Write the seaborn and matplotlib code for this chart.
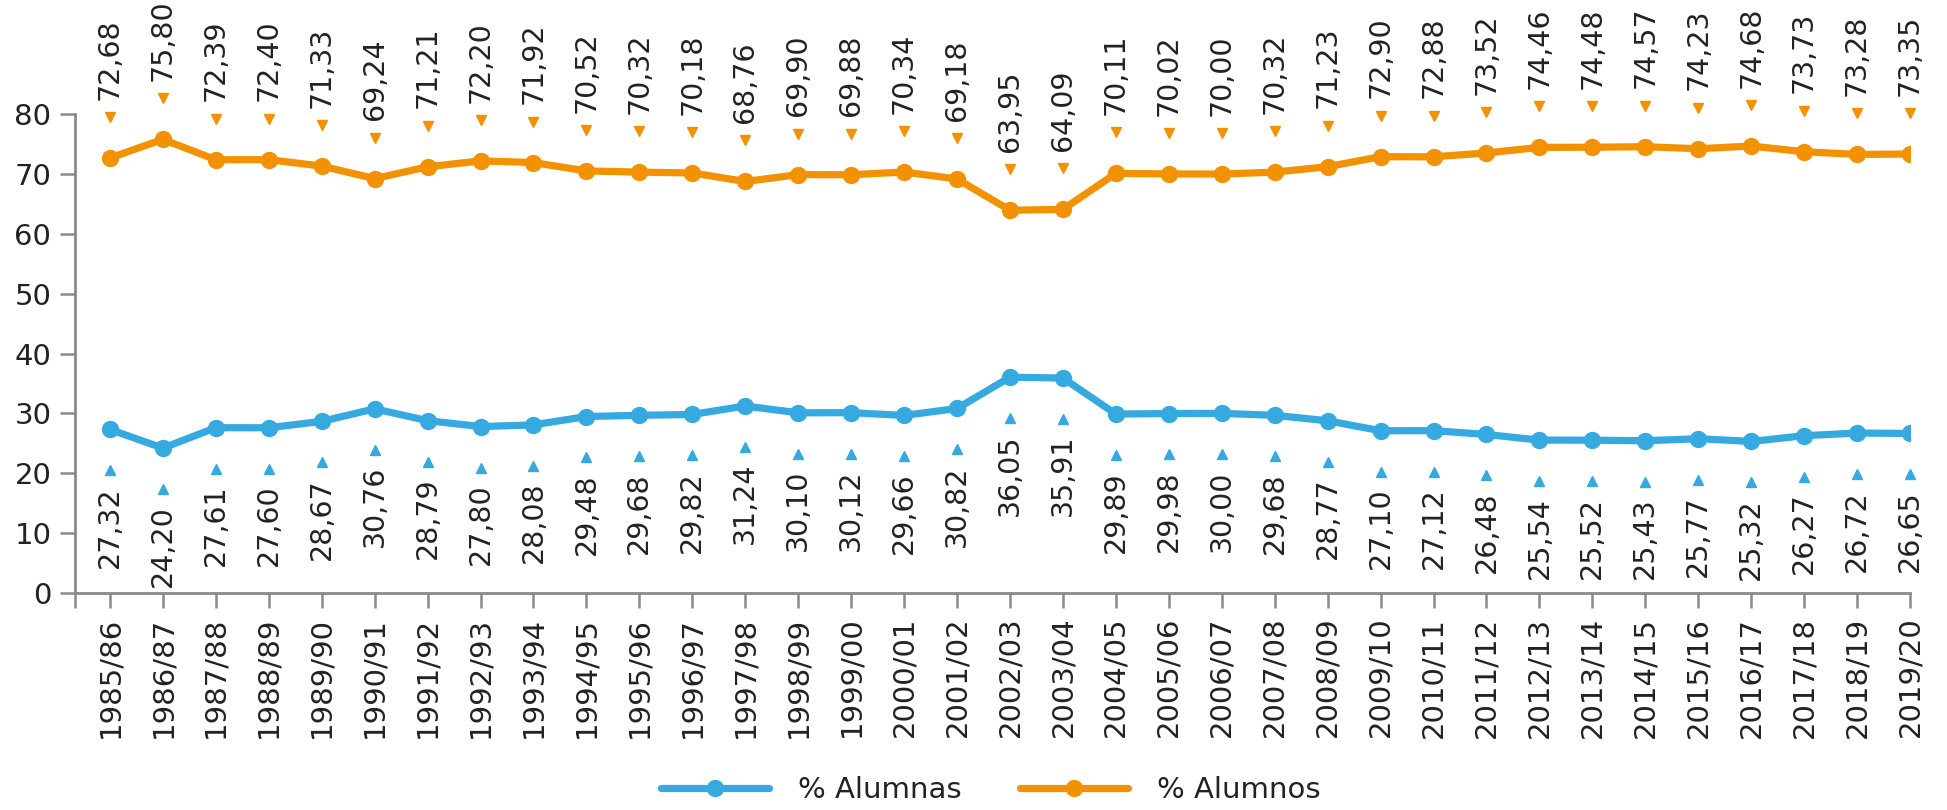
import matplotlib
matplotlib.use("Agg")
import matplotlib.pyplot as plt
from matplotlib.lines import Line2D
from matplotlib.transforms import ScaledTranslation
import seaborn as sns
import pandas as pd

cursos = ["1985/86", "1986/87", "1987/88", "1988/89", "1989/90", "1990/91", "1991/92",
          "1992/93", "1993/94", "1994/95", "1995/96", "1996/97", "1997/98", "1998/99",
          "1999/00", "2000/01", "2001/02", "2002/03", "2003/04", "2004/05", "2005/06",
          "2006/07", "2007/08", "2008/09", "2009/10", "2010/11", "2011/12", "2012/13",
          "2013/14", "2014/15", "2015/16", "2016/17", "2017/18", "2018/19", "2019/20"]

alumnas = [27.32, 24.20, 27.61, 27.60, 28.67, 30.76, 28.79, 27.80, 28.08, 29.48, 29.68,
           29.82, 31.24, 30.10, 30.12, 29.66, 30.82, 36.05, 35.91, 29.89, 29.98, 30.00,
           29.68, 28.77, 27.10, 27.12, 26.48, 25.54, 25.52, 25.43, 25.77, 25.32, 26.27,
           26.72, 26.65]

alumnos = [72.68, 75.80, 72.39, 72.40, 71.33, 69.24, 71.21, 72.20, 71.92, 70.52, 70.32,
           70.18, 68.76, 69.90, 69.88, 70.34, 69.18, 63.95, 64.09, 70.11, 70.02, 70.00,
           70.32, 71.23, 72.90, 72.88, 73.52, 74.46, 74.48, 74.57, 74.23, 74.68, 73.73,
           73.28, 73.35]

series = ["% Alumnas", "% Alumnos"]
colores = {"% Alumnas": "#36A9E1", "% Alumnos": "#F39200"}

sns.set_theme(style="white")
plt.rcParams["font.family"] = ["DejaVu Sans"]
text_color = "#222222"
axis_color = "#8a8a8a"

df = pd.DataFrame({
    "x": list(range(len(cursos))) * 2,
    "valor": alumnas + alumnos,
    "serie": [series[0]] * len(cursos) + [series[1]] * len(cursos),
})

fig = plt.figure(figsize=(19.47, 8.10), dpi=100)
ax = fig.add_axes([0.0385, 0.268, 0.9425, 0.591])

sns.lineplot(data=df, x="x", y="valor", hue="serie", palette=colores, ax=ax,
             marker="o", markersize=12.5, markeredgewidth=0, linewidth=5.2,
             legend=False, sort=False)

up = ax.transData + ScaledTranslation(0, 29.5 / 72, fig.dpi_scale_trans)
down = ax.transData + ScaledTranslation(0, -29.5 / 72, fig.dpi_scale_trans)

# value labels: small triangle pointing at the point plus the rotated number
xs = list(range(len(cursos)))
ax.plot(xs, alumnos, linestyle="none", marker="v", markersize=7.5,
        color=colores["% Alumnos"], transform=up, clip_on=False)
ax.plot(xs, alumnas, linestyle="none", marker="^", markersize=7.5,
        color=colores["% Alumnas"], transform=down, clip_on=False)

for i, (fem, mas) in enumerate(zip(alumnas, alumnos)):
    ax.annotate(f"{mas:.2f}".replace(".", ","), xy=(i, mas), xytext=(0, 42),
                textcoords="offset points", rotation=90, ha="center", va="bottom",
                fontsize=20.5, color=text_color, annotation_clip=False)
    ax.annotate(f"{fem:.2f}".replace(".", ","), xy=(i, fem), xytext=(0, -41),
                textcoords="offset points", rotation=90, ha="center", va="top",
                fontsize=20.5, color=text_color, annotation_clip=False)

ax.set_xlim(-0.66, len(cursos) - 1)
ax.set_ylim(0, 80)
ax.set_xticks(xs)
ax.set_xticklabels(cursos, rotation=90)
ax.set_xticks([-0.66], minor=True)
ax.set_yticks(range(0, 81, 10))
ax.set_xlabel("")
ax.set_ylabel("")

for side in ["top", "right"]:
    ax.spines[side].set_visible(False)
for side in ["left", "bottom"]:
    ax.spines[side].set_color(axis_color)
    ax.spines[side].set_linewidth(2)

ax.tick_params(axis="both", which="both", length=11, width=1.8, color=axis_color,
               labelsize=21, labelcolor=text_color, direction="out")
ax.tick_params(axis="x", which="major", pad=6, bottom=True)
ax.tick_params(axis="x", which="minor", bottom=True, length=11)
ax.tick_params(axis="y", left=True, pad=6)

handles = [Line2D([0], [0], color=colores[s], linewidth=5.2, marker="o", markersize=12.5,
                  markeredgewidth=0) for s in series]
fig.legend(handles, series, loc="center", bbox_to_anchor=(0.509, 0.025), ncol=2,
           frameon=False, fontsize=21, handlelength=3.7, handletextpad=1.0,
           columnspacing=2.0, labelcolor=text_color)

fig.savefig("out.png", dpi=100)
